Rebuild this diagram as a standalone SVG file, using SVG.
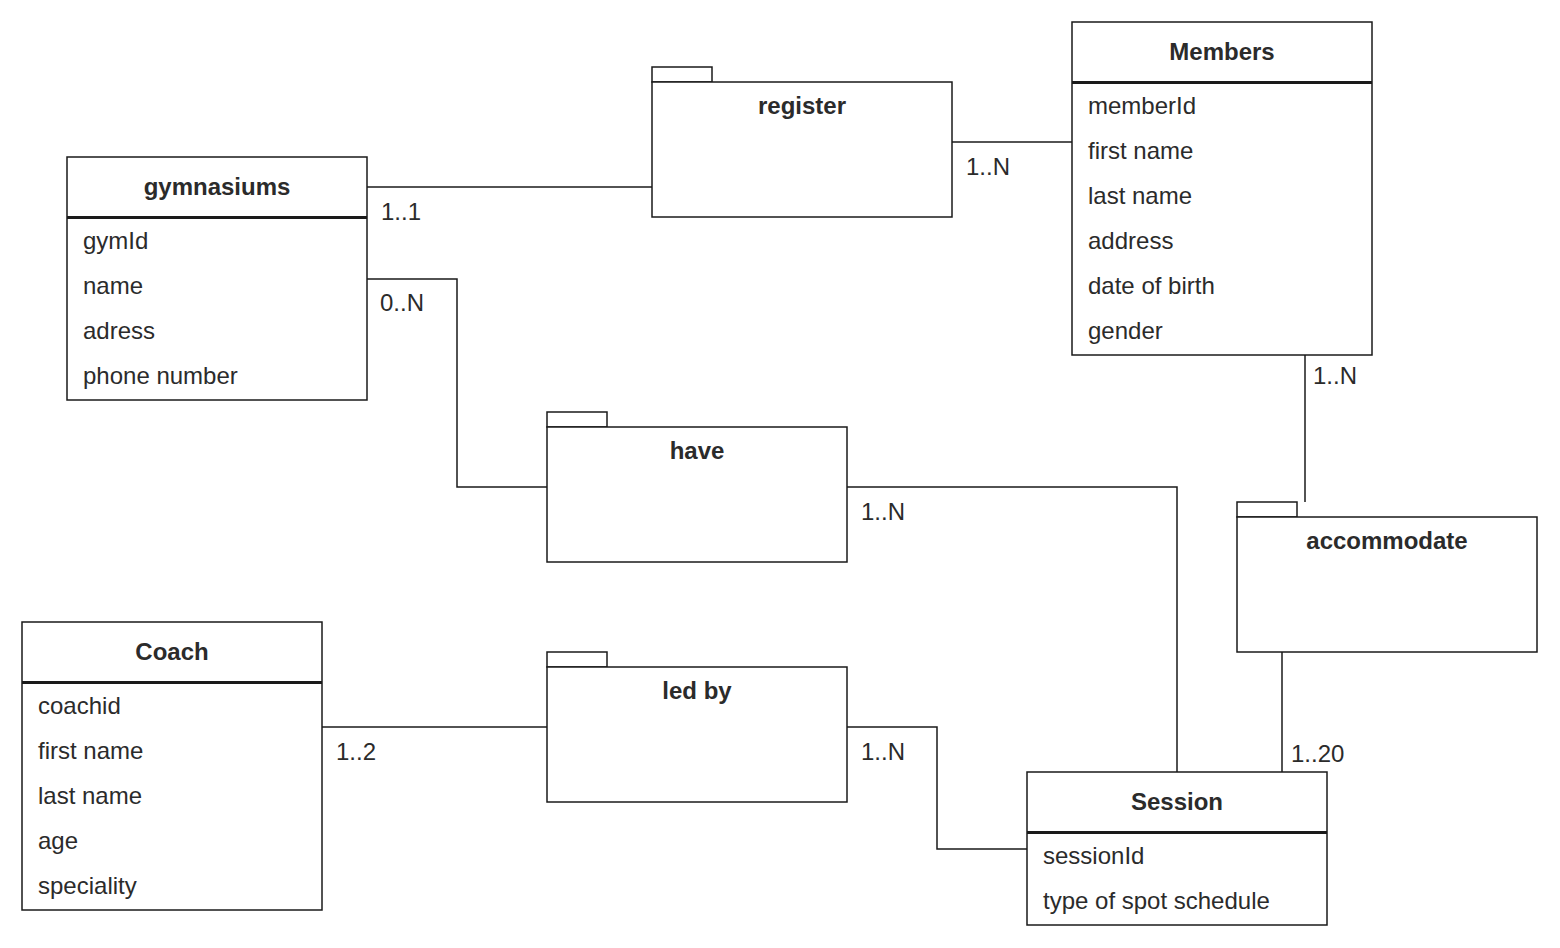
<svg xmlns="http://www.w3.org/2000/svg" width="1560" height="948" viewBox="0 0 1560 948">
<style>
.box{fill:#fff;stroke:#1a1a1a;stroke-width:1.5}
.sep{stroke:#1a1a1a;stroke-width:3}
.t{font-family:"Liberation Sans",Arial,sans-serif;font-size:24px;fill:#2b2b2b;dominant-baseline:central}
.h{font-weight:bold;text-anchor:middle}
.c{fill:none;stroke:#1a1a1a;stroke-width:1.5}
</style>
<rect width="1560" height="948" fill="#fff"/>
<g id="connectors">
<path class="c" d="M367,187H652"/>
<path class="c" d="M952,142H1072"/>
<path class="c" d="M367,279H457V487H547"/>
<path class="c" d="M847,487H1177V772"/>
<path class="c" d="M1305,355V502"/>
<path class="c" d="M1282,652V772"/>
<path class="c" d="M322,727H547"/>
<path class="c" d="M847,727H937V849H1027"/>
<text class="t" x="381" y="211">1..1</text>
<text class="t" x="966" y="166">1..N</text>
<text class="t" x="380" y="302">0..N</text>
<text class="t" x="861" y="511">1..N</text>
<text class="t" x="1313" y="375">1..N</text>
<text class="t" x="1291" y="753">1..20</text>
<text class="t" x="336" y="751">1..2</text>
<text class="t" x="861" y="751">1..N</text>
</g>
<g id="gymnasiums">
<rect class="box" x="67" y="157" width="300" height="243"/>
<line class="sep" x1="67" y1="217.5" x2="367" y2="217.5"/>
<text class="t h" x="217" y="186">gymnasiums</text>
<text class="t" x="83" y="240">gymId</text>
<text class="t" x="83" y="285">name</text>
<text class="t" x="83" y="330">adress</text>
<text class="t" x="83" y="375">phone number</text>
</g>
<g id="members">
<rect class="box" x="1072" y="22" width="300" height="333"/>
<line class="sep" x1="1072" y1="82.5" x2="1372" y2="82.5"/>
<text class="t h" x="1222" y="51">Members</text>
<text class="t" x="1088" y="105">memberId</text>
<text class="t" x="1088" y="150">first name</text>
<text class="t" x="1088" y="195">last name</text>
<text class="t" x="1088" y="240">address</text>
<text class="t" x="1088" y="285">date of birth</text>
<text class="t" x="1088" y="330">gender</text>
</g>
<g id="coach">
<rect class="box" x="22" y="622" width="300" height="288"/>
<line class="sep" x1="22" y1="682.5" x2="322" y2="682.5"/>
<text class="t h" x="172" y="651">Coach</text>
<text class="t" x="38" y="705">coachid</text>
<text class="t" x="38" y="750">first name</text>
<text class="t" x="38" y="795">last name</text>
<text class="t" x="38" y="840">age</text>
<text class="t" x="38" y="885">speciality</text>
</g>
<g id="session">
<rect class="box" x="1027" y="772" width="300" height="153"/>
<line class="sep" x1="1027" y1="832.5" x2="1327" y2="832.5"/>
<text class="t h" x="1177" y="801">Session</text>
<text class="t" x="1043" y="855">sessionId</text>
<text class="t" x="1043" y="900">type of spot schedule</text>
</g>
<g id="register">
<rect class="box" x="652" y="67" width="60" height="15"/>
<rect class="box" x="652" y="82" width="300" height="135"/>
<text class="t h" x="802" y="105">register</text>
</g>
<g id="have">
<rect class="box" x="547" y="412" width="60" height="15"/>
<rect class="box" x="547" y="427" width="300" height="135"/>
<text class="t h" x="697" y="450">have</text>
</g>
<g id="ledby">
<rect class="box" x="547" y="652" width="60" height="15"/>
<rect class="box" x="547" y="667" width="300" height="135"/>
<text class="t h" x="697" y="690">led by</text>
</g>
<g id="accommodate">
<rect class="box" x="1237" y="502" width="60" height="15"/>
<rect class="box" x="1237" y="517" width="300" height="135"/>
<text class="t h" x="1387" y="540">accommodate</text>
</g>
</svg>
